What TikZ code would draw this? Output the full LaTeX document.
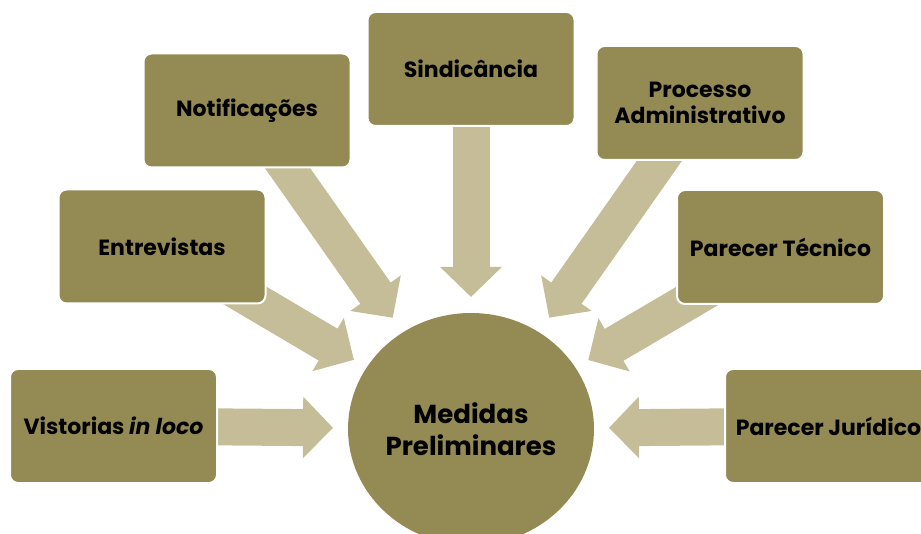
\documentclass[tikz,border=0pt]{standalone}
\usepackage{fontspec}
\setmainfont{Poppins}
\usetikzlibrary{shapes.geometric,arrows.meta,calc,backgrounds}

\definecolor{oliva}{HTML}{948A54}
\definecolor{olivaclara}{HTML}{C4BD97}

\begin{document}
\begin{tikzpicture}[x=1pt, y=-1pt,
    caixa/.style={rectangle, rounded corners=8pt, fill=oliva, draw=white, line width=2pt,
        minimum width=207pt, minimum height=114pt, align=center,
        font=\bfseries\fontsize{22}{26}\selectfont},
    seta/.style={olivaclara, line width=37pt, -{Triangle[length=30pt,width=60pt]}}]

    \clip (0,0) rectangle (921,534);

    \node[ellipse, fill=oliva, minimum width=246pt, minimum height=232pt, inner sep=0pt,
        align=center, font=\bfseries\fontsize{26}{32}\selectfont] (medidas) at (471,429)
        {Medidas\\Preliminares};

    \node[caixa] (vist)  at (113.5,426) {Vistorias \textit{in loco}};
    \node[caixa] (entr)  at (162,246.5) {Entrevistas};
    \node[caixa] (notif) at (247,110.5) {Notificações};
    \node[caixa] (sind)  at (471,69)    {Sindicância};
    \node[caixa] (proc)  at (700,103)   {Processo\\Administrativo};
    \node[caixa] (tec)   at (780.5,247) {Parecer Técnico};
    \node[caixa] (jur)   at (828.5,426) {Parecer Jurídico};

    % pontas das setas
    \coordinate (pvist)  at ($(medidas)!138pt!(vist)$);
    \coordinate (pentr)  at ($(medidas)!136pt!(entr)$);
    \coordinate (pnotif) at ($(medidas)!136pt!(notif)$);
    \coordinate (psind)  at ($(medidas)!132pt!(sind)$);
    \coordinate (pproc)  at ($(medidas)!136pt!(proc)$);
    \coordinate (ptec)   at ($(medidas)!136pt!(tec)$);
    \coordinate (pjur)   at ($(medidas)!138pt!(jur)$);

    \begin{scope}[on background layer]
        \foreach \n in {vist,entr,notif,sind,proc,tec,jur}
            \draw[seta] (\n.center) -- (p\n);
    \end{scope}

\end{tikzpicture}
\end{document}
